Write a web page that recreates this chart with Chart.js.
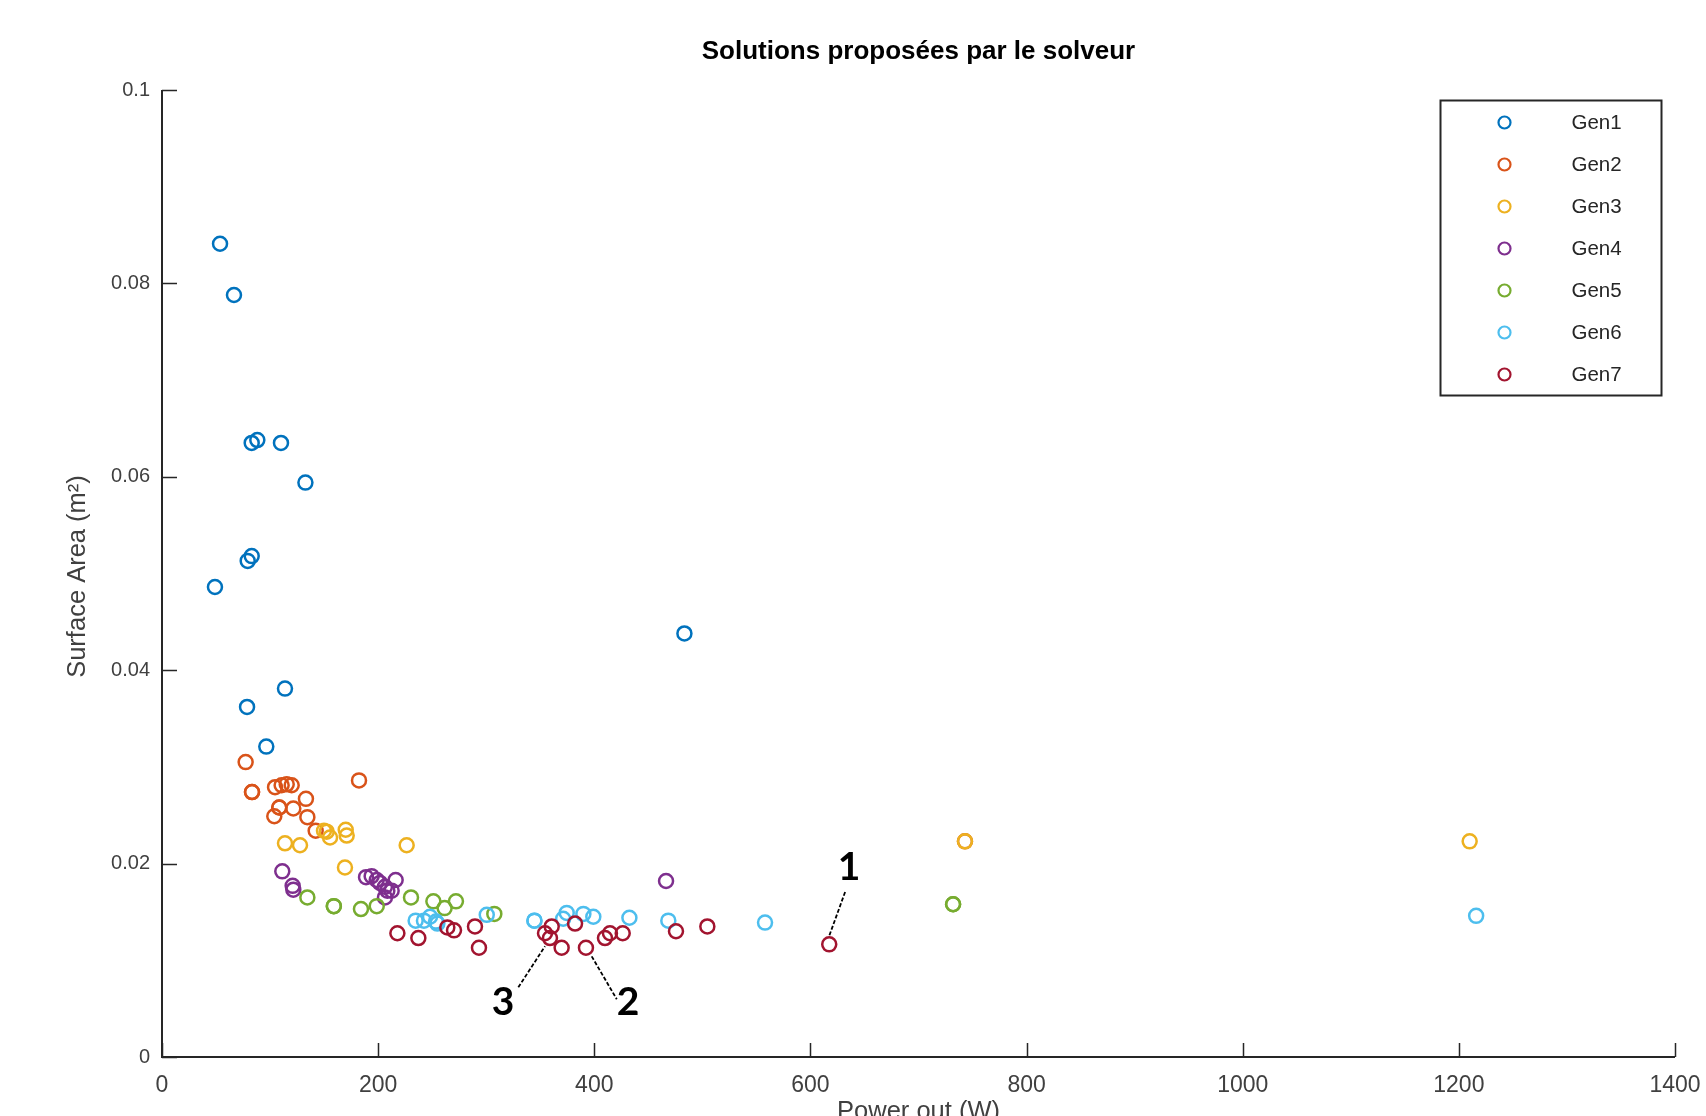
<!DOCTYPE html>
<html>
<head>
<meta charset="utf-8">
<script src="https://cdn.jsdelivr.net/npm/chart.js@4.4.1/dist/chart.umd.min.js"></script>
<style>
html,body{margin:0;padding:0;background:#ffffff;}
canvas{display:block;}
</style>
</head>
<body>
<canvas id="chart" width="1706" height="1116"></canvas>
<script>
// ---------------- data ----------------
const seriesNames = ['Gen1', 'Gen2', 'Gen3', 'Gen4', 'Gen5', 'Gen6', 'Gen7'];

const gen1X = [53.7, 66.6, 83.0, 88.2, 110.1, 132.7, 79.3, 83.0, 49.0, 483.4, 113.8, 78.7, 96.5];
const gen1Y = [0.0841, 0.0788, 0.0635, 0.0638, 0.0635, 0.0594, 0.0513, 0.0518, 0.0486, 0.0438, 0.0381, 0.0362, 0.0321];

const gen2X = [77.4, 83.3, 83.3, 104.6, 110.7, 115.4, 120.0, 182.3, 133.2, 108.5, 108.5, 121.5, 103.9, 134.5, 142.2, 743];
const gen2Y = [0.0305, 0.0274, 0.0274, 0.0279, 0.0281, 0.0282, 0.0281, 0.0286, 0.0267, 0.0258, 0.0258, 0.0257, 0.0249, 0.0248, 0.0234, 0.0223];

const gen3X = [149.9, 152.4, 155.5, 170.0, 170.9, 113.8, 127.7, 226.4, 169.3, 743, 1210];
const gen3Y = [0.0234, 0.0233, 0.0227, 0.0235, 0.0229, 0.0221, 0.0219, 0.0219, 0.0196, 0.0223, 0.0223];

const gen4X = [111.3, 120.9, 121.5, 188.8, 194.0, 198.7, 201.7, 206.3, 208.5, 212.5, 216.2, 206.3, 466.4];
const gen4Y = [0.0192, 0.0177, 0.0173, 0.0186, 0.0187, 0.0183, 0.0180, 0.0176, 0.0172, 0.0172, 0.0183, 0.0165, 0.0182];

const gen5X = [134.5, 159.0, 159.0, 184.1, 198.7, 230.4, 251.1, 261.5, 272.0, 307.5, 732, 732];
const gen5Y = [0.0165, 0.0156, 0.0156, 0.0153, 0.0156, 0.0165, 0.0161, 0.0154, 0.0161, 0.0148, 0.0158, 0.0158];

const gen6X = [234.7, 242.4, 248.0, 253.5, 254.8, 300.5, 344.6, 344.6, 374.5, 371.2, 389.9, 399.1, 432.5, 468.5, 558.0, 1216];
const gen6Y = [0.0141, 0.0141, 0.0145, 0.0140, 0.0138, 0.0147, 0.0141, 0.0141, 0.0149, 0.0143, 0.0148, 0.0145, 0.0144, 0.0141, 0.0139, 0.0146];

const gen7X = [217.8, 237.2, 264.0, 270.2, 289.6, 293.3, 354.4, 360.6, 359.0, 369.8, 382.2, 392.3, 409.9, 414.5, 426.3, 475.6, 504.6, 617.4];
const gen7Y = [0.0128, 0.0123, 0.0134, 0.0131, 0.0135, 0.0113, 0.0128, 0.0135, 0.0123, 0.0113, 0.0138, 0.0113, 0.0123, 0.0128, 0.0128, 0.0130, 0.0135, 0.01165];

const xTickValues = [0, 200, 400, 600, 800, 1000, 1200, 1400];
const xTickLabels = ['0', '200', '400', '600', '800', '1000', '1200', '1400'];
const yTickValues = [0, 0.02, 0.04, 0.06, 0.08, 0.1];
const yTickLabels = ['0', '0.02', '0.04', '0.06', '0.08', '0.1'];

const chartTitle = 'Solutions proposées par le solveur';
const xTitle = 'Power out (W)';
const yTitle = 'Surface Area (m\u00B2)';

// callouts: label text, label anchor and leader line, all in data units
const calloutLabels = ['1', '2', '3'];
const calloutAt = [[635.7, 0.0196], [431.2, 0.00566], [315.5, 0.00566]];
const calloutLines = [[[632.1, 0.01706], [617.6, 0.01259]],
                      [[397.6, 0.01041], [420.8, 0.00597]],
                      [[329.7, 0.00721], [354.4, 0.01145]]];

// ---------------- styles ----------------
const colors = ['#0072BD', '#D95319', '#EDB120', '#7E2F8E', '#77AC30', '#4DBEEE', '#A2142F'];
const allX = [gen1X, gen2X, gen3X, gen4X, gen5X, gen6X, gen7X];
const allY = [gen1Y, gen2Y, gen3Y, gen4Y, gen5Y, gen6Y, gen7Y];

const datasets = seriesNames.map((name, i) => ({
  label: name,
  data: allX[i].map((x, k) => ({ x: x, y: allY[i][k] })),
  borderColor: colors[i],
  backgroundColor: 'rgba(0,0,0,0)',
  pointStyle: 'circle',
  pointRadius: 7,
  pointBorderWidth: 2.5,
  pointHoverRadius: 7,
  showLine: false,
  order: seriesNames.length - i
}));

const FONT = '"Liberation Sans", Arial, Helvetica, sans-serif';
const AXIS_COLOR = '#262626';
const TEXT_COLOR = '#404040';

const decorPlugin = {
  id: 'decor',
  afterDraw(chart) {
    const ctx = chart.ctx;
    const a = chart.chartArea;
    const xs = chart.scales.x, ys = chart.scales.y;
    ctx.save();

    // axis lines
    ctx.strokeStyle = AXIS_COLOR;
    ctx.lineWidth = 2;
    ctx.beginPath();
    ctx.moveTo(a.left, a.top);
    ctx.lineTo(a.left, a.bottom);
    ctx.lineTo(a.right, a.bottom);
    ctx.stroke();

    // inward ticks
    ctx.lineWidth = 1.5;
    ctx.beginPath();
    xTickValues.forEach(v => {
      const px = Math.round(xs.getPixelForValue(v)) + 0.5;
      ctx.moveTo(px, a.bottom);
      ctx.lineTo(px, a.bottom - 14);
    });
    yTickValues.forEach(v => {
      const py = Math.round(ys.getPixelForValue(v)) + 0.5;
      ctx.moveTo(a.left, py);
      ctx.lineTo(a.left + 15, py);
    });
    ctx.stroke();

    // title
    ctx.fillStyle = '#000000';
    ctx.font = 'bold 26px ' + FONT;
    ctx.textAlign = 'center';
    ctx.textBaseline = 'middle';
    ctx.fillText(chartTitle, (a.left + a.right) / 2, 52);

    // axis titles
    ctx.fillStyle = TEXT_COLOR;
    ctx.font = '25.5px ' + FONT;
    ctx.fillText(xTitle, (a.left + a.right) / 2, 1112);
    ctx.save();
    ctx.translate(78, (a.top + a.bottom) / 2 + 3);
    ctx.rotate(-Math.PI / 2);
    ctx.fillText(yTitle, 0, 0);
    ctx.restore();

    // legend
    const lx = a.right - 234.5, ly = a.top + 10.5, lw = 221, lh = 295;
    ctx.fillStyle = '#ffffff';
    ctx.fillRect(lx, ly, lw, lh);
    ctx.strokeStyle = AXIS_COLOR;
    ctx.lineWidth = 2;
    ctx.strokeRect(lx, ly, lw, lh);
    ctx.font = '20.5px ' + FONT;
    ctx.textAlign = 'left';
    ctx.textBaseline = 'middle';
    chart.data.datasets.forEach((ds, i) => {
      const cy = ly + 22 + i * 42;
      ctx.beginPath();
      ctx.arc(lx + 64, cy, 6, 0, Math.PI * 2);
      ctx.strokeStyle = ds.borderColor;
      ctx.lineWidth = 2.2;
      ctx.stroke();
      ctx.fillStyle = AXIS_COLOR;
      ctx.fillText(ds.label, lx + 131, cy + 1);
    });

    // callouts
    ctx.strokeStyle = '#000000';
    ctx.lineWidth = 1.8;
    ctx.setLineDash([4, 2]);
    calloutLines.forEach(seg => {
      ctx.beginPath();
      ctx.moveTo(xs.getPixelForValue(seg[0][0]), ys.getPixelForValue(seg[0][1]));
      ctx.lineTo(xs.getPixelForValue(seg[1][0]), ys.getPixelForValue(seg[1][1]));
      ctx.stroke();
    });
    ctx.setLineDash([]);
    ctx.fillStyle = '#000000';
    ctx.font = 'bold 39px Lato, "Open Sans", sans-serif';
    ctx.textAlign = 'center';
    ctx.textBaseline = 'middle';
    calloutLabels.forEach((t, i) => {
      ctx.fillText(t, xs.getPixelForValue(calloutAt[i][0]), ys.getPixelForValue(calloutAt[i][1]));
    });

    ctx.restore();
  }
};

new Chart(document.getElementById('chart'), {
  type: 'scatter',
  data: { datasets: datasets },
  options: {
    responsive: false,
    animation: false,
    events: [],
    layout: { padding: { top: 90, right: 31, left: 0, bottom: 0 } },
    plugins: {
      legend: { display: false },
      title: { display: false },
      tooltip: { enabled: false }
    },
    scales: {
      x: {
        type: 'linear',
        min: 0, max: 1400,
        grid: { display: false, drawTicks: false },
        border: { display: false },
        afterFit: s => { s.height = 59; s.paddingLeft = 0; s.paddingRight = 0; },
        afterBuildTicks: s => { s.ticks = xTickValues.map(v => ({ value: v })); },
        ticks: {
          autoSkip: false, maxRotation: 0, padding: 15,
          color: TEXT_COLOR,
          font: { family: FONT, size: 23 },
          callback: (v, i) => xTickLabels[i]
        }
      },
      y: {
        type: 'linear',
        min: 0, max: 0.1,
        grid: { display: false, drawTicks: false },
        border: { display: false },
        afterFit: s => { s.width = 162; s.paddingTop = 0; s.paddingBottom = 0; },
        afterBuildTicks: s => { s.ticks = yTickValues.map(v => ({ value: v })); },
        ticks: {
          autoSkip: false, padding: 12,
          color: TEXT_COLOR,
          font: { family: FONT, size: 20 },
          callback: (v, i) => yTickLabels[i]
        }
      }
    }
  },
  plugins: [decorPlugin]
});
</script>
</body>
</html>
